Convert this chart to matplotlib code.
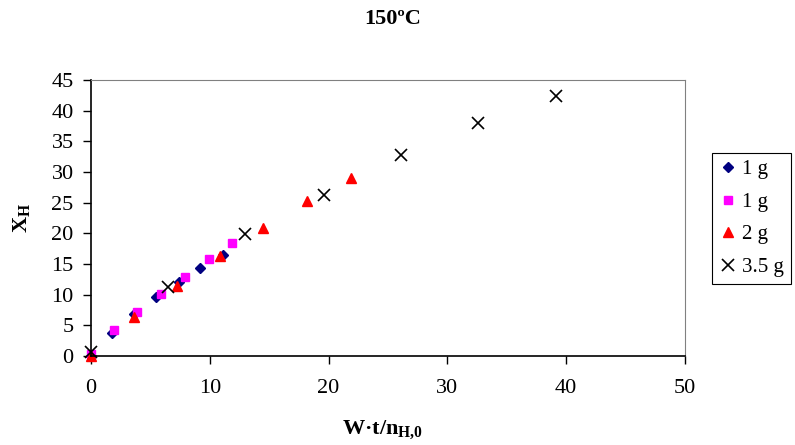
import matplotlib
matplotlib.use("Agg")
import matplotlib.pyplot as plt

plt.rcParams['font.family'] = ['Liberation Serif', 'DejaVu Serif']
plt.rcParams['mathtext.fontset'] = 'custom'
plt.rcParams['mathtext.rm'] = 'Liberation Serif'
plt.rcParams['mathtext.bf'] = 'Liberation Serif:bold'

s1_x = [0, 1.8, 3.6, 5.5, 7.4, 9.2, 11.1]
s1_y = [0, 3.7, 6.8, 9.6, 12.0, 14.3, 16.5]
s2_x = [0, 1.9, 3.9, 5.9, 7.9, 9.9, 11.9]
s2_y = [0.3, 4.2, 7.2, 10.1, 12.9, 15.8, 18.4]
s3_x = [0, 3.6, 7.2, 10.9, 14.5, 18.2, 21.9]
s3_y = [0, 6.4, 11.4, 16.3, 20.8, 25.3, 29.0]
s4_x = [0, 6.5, 13.0, 19.6, 26.1, 32.6, 39.1]
s4_y = [0.6, 11.3, 19.9, 26.3, 32.8, 38.0, 42.4]
labels = ["1 g", "1 g", "2 g", "3.5 g"]
x_ticks = [0, 10, 20, 30, 40, 50]
y_ticks = [0, 5, 10, 15, 20, 25, 30, 35, 40, 45]

fig = plt.figure(figsize=(7.95, 4.45), dpi=100)
ax = fig.add_axes([91/795, 1-356/445, (685-91)/795, (356-80)/445])

ax.plot(s1_x, s1_y, linestyle='none', marker='D', ms=5, color='#000080', label=labels[0], clip_on=False)
ax.plot(s2_x, s2_y, linestyle='none', marker='s', ms=6, color='#FF00FF', label=labels[1], clip_on=False)
ax.plot(s3_x, s3_y, linestyle='none', marker='^', ms=7, color='#FF0000', label=labels[2], clip_on=False)
ax.plot(s4_x, s4_y, linestyle='none', marker='x', ms=9, mew=1.2, color='black', label=labels[3], clip_on=False)

ax.set_xlim(0, 50)
ax.set_ylim(0, 45)
ax.set_xticks(x_ticks)
ax.set_yticks(y_ticks)
ax.tick_params(direction='out', length=5.5, width=1, labelsize=16)
ax.tick_params(axis='x', pad=11)
ax.tick_params(axis='y', pad=7)
for sp in ['top', 'right']:
    ax.spines[sp].set_color('#808080')
for sp in ['left', 'bottom']:
    ax.spines[sp].set_color('black')
    ax.spines[sp].set_linewidth(1.2)

fig.text(393/795, 1-19.5/445, "150ºC", ha='center', va='center', fontsize=16, fontweight='bold')
fig.text(383/795, 1-430/445, r"W·t/n$_{\mathbf{H{,}0}}$", ha='center', va='center', fontsize=16, fontweight='bold')
fig.text(22/795, 1-218/445, r"X$_{\mathbf{H}}$", ha='center', va='center', fontsize=16, fontweight='bold', rotation=90)

leg = ax.legend(loc='upper left', bbox_to_anchor=(712/795, 1-152.5/445), bbox_transform=fig.transFigure,
                frameon=True, fancybox=False, framealpha=1, edgecolor='black', fontsize=15,
                handlelength=0.8, handletextpad=0.3, borderpad=0.35, labelspacing=0.62, borderaxespad=0)
leg.get_frame().set_linewidth(0.8)

fig.savefig("out.png", dpi=100)
